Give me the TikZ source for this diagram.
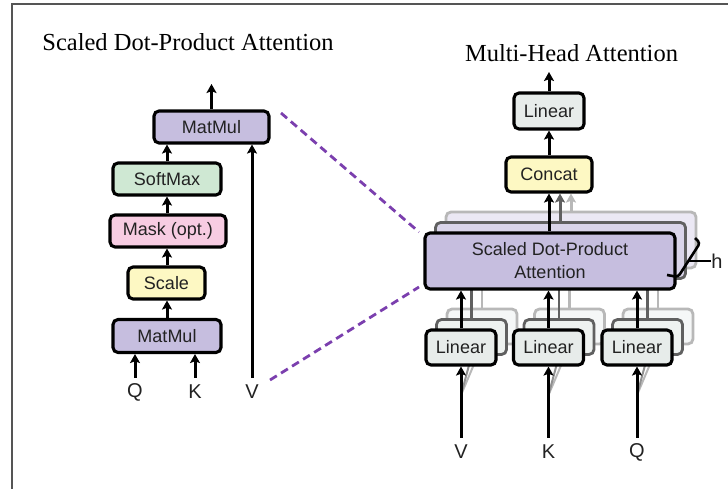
\documentclass[tikz,border=0pt]{standalone}
\usepackage{fontspec}
\setmainfont{Liberation Serif}
\setsansfont{Liberation Sans}
\usetikzlibrary{arrows.meta}
\definecolor{purpleF}{HTML}{C6BEDF}
\definecolor{greenF}{HTML}{CFE8D3}
\definecolor{pinkF}{HTML}{F7CCE2}
\definecolor{yellowF}{HTML}{FDF8C3}
\definecolor{grayF}{HTML}{E7ECEA}
\definecolor{dashC}{HTML}{7B3FAE}
\definecolor{textc}{HTML}{222222}
\definecolor{frameC}{HTML}{555555}
\definecolor{copyTwo}{HTML}{606060}
\definecolor{copyThree}{HTML}{B8B8B8}
\begin{document}
\begin{tikzpicture}[x=1pt,y=-1pt,
  box/.style={draw=black, line width=3.1pt, rounded corners=5pt, inner sep=0pt,
    font=\sffamily\fontsize{18}{23}\selectfont, text=textc, align=center},
  copytwo/.style={box, draw=copyTwo, line width=2.8pt},
  copythree/.style={box, draw=copyThree, line width=2.8pt},
  arr/.style={line width=3pt, -{Stealth[length=9pt,width=10pt,inset=1.8pt]}},
  gln/.style={line width=2.8pt},
  lab/.style={font=\sffamily\fontsize{20}{24}\selectfont, inner sep=0pt, minimum height=28pt, text=textc},
  ttl/.style={font=\fontsize{24.5}{28}\selectfont, inner sep=0pt, text=black},
  dashln/.style={dashC, line width=2.8pt, dash pattern=on 8pt off 5pt}]
\useasboundingbox (0,0) rectangle (728,489);
% frame
\draw[frameC, line width=1.5pt] (12,489) -- (12,4) -- (728,4);

% titles
\node[ttl] (t1) at (188,42) {Scaled Dot-Product Attention};
\node[ttl] (t2) at (571.5,53) {Multi-Head Attention};

% ---------- left: scaled dot-product attention ----------
\node[box, fill=purpleF, minimum width=115pt, minimum height=32pt] (mm2) at (211.5,127) {MatMul};
\node[box, fill=greenF, minimum width=108pt, minimum height=32pt] (sm) at (167,179) {SoftMax};
\node[box, fill=pinkF, minimum width=116pt, minimum height=32pt] (mask) at (168,231) {Mask (opt.)};
\node[box, fill=yellowF, minimum width=77pt, minimum height=32pt] (scale) at (166.5,283) {Scale};
\node[box, fill=purpleF, minimum width=108pt, minimum height=33pt] (mm1) at (167,336) {MatMul};
\node[lab] (Q1) at (135,392) {Q};
\node[lab] (K1) at (195,392) {K};
\node[lab] (V1) at (252,392) {V};
\coordinate (out1) at (211.5,84);

\draw[arr] (Q1.north) -- (Q1.north |- mm1.south);
\draw[arr] (K1.north) -- (K1.north |- mm1.south);
\draw[arr] (mm1.north) -- (mm1.north |- scale.south);
\draw[arr] (scale.north -| mm1.north) -- (mask.south -| mm1.north);
\draw[arr] (mask.north -| mm1.north) -- (sm.south -| mm1.north);
\draw[arr] (sm.north -| mm1.north) -- (mm2.south -| mm1.north);
\draw[arr] (V1.north) -- (V1.north |- mm2.south);
\draw[arr] (mm2.north) -- (out1);

% dashed connectors
\coordinate (d1a) at (281,113);
\coordinate (d1b) at (419,232);
\coordinate (d2a) at (270,380);
\coordinate (d2b) at (419,287);
\draw[dashln] (d1a) -- (d1b);
\draw[dashln] (d2a) -- (d2b);

% ---------- right: multi-head attention ----------
\node[box, fill=grayF, minimum width=70pt, minimum height=36pt] (lin) at (549,111) {Linear};
\node[box, fill=yellowF, minimum width=86pt, minimum height=35pt] (concat) at (549,174.5) {Concat};
\coordinate (out2) at (549,72);

% stacked attention copies
\node[copythree, fill=purpleF!35!white, minimum width=250pt, minimum height=56pt] (sdpa3) at (571,240) {};
\node[copytwo, fill=purpleF!65!white, minimum width=250pt, minimum height=56pt] (sdpa2) at (560.5,250.5) {};
\draw[arr, copyThree] ([xshift=22pt]concat.south |- sdpa3.north) -- ([xshift=22pt]concat.south);
\draw[arr, copyTwo] ([xshift=11pt]concat.south |- sdpa2.north) -- ([xshift=11pt]concat.south);

% labels of inputs
\node[lab] (V2) at (461,452) {V};
\node[lab] (K2) at (548.5,452) {K};
\node[lab] (Q2) at (637,452) {Q};

% linear copies (inputs), their lines up to the attention copies, and faint input shadows
\foreach \n/\x/\lab in {a/461/V2,b/548.5/K2,c/637/Q2}{
  \node[copythree, fill=grayF!40!white, minimum width=70pt, minimum height=35pt] (l3\n) at (\x+21,326.5) {};
  \node[copytwo, fill=grayF!70!white, minimum width=70pt, minimum height=35pt] (l2\n) at (\x+10.5,337) {};
  \draw[gln, copyThree] (l3\n.north) -- (l3\n.north |- sdpa3.south);
  \draw[gln, copyTwo] (l2\n.north) -- (l2\n.north |- sdpa2.south);
  \coordinate (s\n) at (\x,395);
  \draw[line width=2pt, copyThree] (s\n) -- (l3\n.south);
  \draw[line width=2pt, copyTwo!70!white] (s\n) -- (l2\n.south);
}
\node[box, fill=purpleF, minimum width=250pt, minimum height=56pt] (sdpa) at (550,261) {Scaled Dot-Product\\Attention};

\node[box, fill=grayF, minimum width=70pt, minimum height=35pt] (la) at (461,347.5) {Linear};
\node[box, fill=grayF, minimum width=70pt, minimum height=35pt] (lb) at (548.5,347.5) {Linear};
\node[box, fill=grayF, minimum width=70pt, minimum height=35pt] (lc) at (637,347.5) {Linear};

\draw[arr] (sdpa.north -| concat.south) -- (concat.south);
\draw[arr] (concat.north) -- (lin.south);
\draw[arr] (lin.north) -- (out2);

\draw[arr] (V2.north) -- (la.south);
\draw[arr] (K2.north) -- (lb.south);
\draw[arr] (Q2.north) -- (lc.south);
\draw[arr] (la.north) -- (la.north |- sdpa.south);
\draw[arr] (lb.north) -- (lb.north |- sdpa.south);
\draw[arr] (lc.north) -- (lc.north |- sdpa.south);

% h brace
\coordinate (b1) at (695,238);
\coordinate (b2) at (700,243);
\coordinate (b3) at (678,277);
\coordinate (b4) at (667,275);
\draw[line width=2.6pt, rounded corners=3pt] (b1) -- (b2) -- (b3) -- (b4);
\node[lab, minimum height=0pt] (h) at (717,261) {h};
\coordinate (bm) at (689,261);
\draw[line width=1.4pt] (bm) -- (h.west);
\end{tikzpicture}
\end{document}
